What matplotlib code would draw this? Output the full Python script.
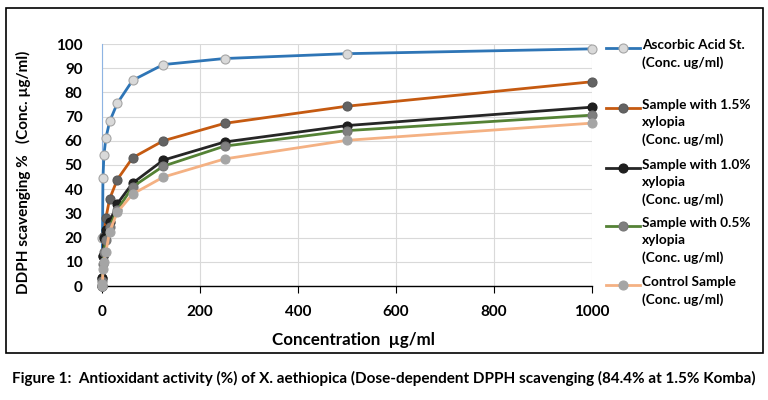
import matplotlib
matplotlib.use("Agg")
from matplotlib import pyplot as plt
from matplotlib.lines import Line2D
from matplotlib.patches import Rectangle

plt.rcParams['font.family'] = ['Lato', 'DejaVu Sans']
plt.rcParams['font.weight'] = 'bold'

# data
conc = [0, 0.98, 1.95, 3.9, 7.8, 15.6, 31.25, 62.5, 125, 250, 500, 1000]
ascorbic = [0, 20, 44.5, 54, 61, 68, 75.5, 85, 91.5, 94, 96, 98]
sample_15 = [0, 3.5, 12.5, 20.5, 28, 36, 44, 53, 60, 67.2, 74.3, 84.4]
sample_10 = [0, 3.5, 12.5, 20, 23, 26.5, 34, 42.5, 52, 59.5, 66.3, 73.9]
sample_05 = [0, 2, 9, 14, 19, 24.5, 31.5, 41, 49.5, 57.8, 64.2, 70.6]
control = [0, 1, 7, 10, 14, 22.5, 30.5, 38, 45, 52.5, 60.2, 67.3]

labels = ['Ascorbic Acid St.\n(Conc. ug/ml)',
          'Sample with 1.5%\nxylopia\n(Conc. ug/ml)',
          'Sample with 1.0%\nxylopia\n(Conc. ug/ml)',
          'Sample with 0.5%\nxylopia\n(Conc. ug/ml)',
          'Control Sample\n(Conc. ug/ml)']
series = [ascorbic, sample_15, sample_10, sample_05, control]
line_colors = ['#2E75B6', '#C55A11', '#262626', '#548235', '#F4B183']
marker_face = ['#D9D9D9', '#636363', '#1F1F1F', '#7F7F7F', '#A5A5A5']
marker_edge = ['#A5A5A5', '#595959', '#1A1A1A', '#767676', '#A5A5A5']

fig = plt.figure(figsize=(7.68, 4.0), dpi=100)
ax = fig.add_axes([102 / 768, 1 - 286 / 400, 490 / 768, 242 / 400])

for vals, lc, mf, me in zip(series, line_colors, marker_face, marker_edge):
    ax.plot(conc, vals, color=lc, lw=2.0, marker='o', ms=6.5,
            mfc=mf, mec=me, mew=0.8, clip_on=False, zorder=3)

ax.set_xlim(0, 1000)
ax.set_ylim(0, 100)
ax.set_xticks(range(0, 1001, 200))
ax.set_yticks(range(0, 101, 10))
ax.grid(True, color='#D9D9D9', lw=0.8)
ax.set_axisbelow(True)
for s in ['top', 'right']:
    ax.spines[s].set_visible(False)
ax.spines['left'].set_color('#8EB4E3')
ax.spines['left'].set_linewidth(0.8)
ax.spines['bottom'].set_color('black')
ax.spines['bottom'].set_linewidth(1.0)
ax.tick_params(axis='x', length=5, width=0.8, direction='out', pad=9,
               labelsize=11)
ax.tick_params(axis='y', length=0, pad=14, labelsize=11)
for t in ax.get_xticklabels() + ax.get_yticklabels():
    t.set_fontweight('bold')

fig.text(354 / 768, 1 - 340 / 400, 'Concentration  µg/ml', ha='center',
         va='center', fontsize=12.2, fontweight='bold')
fig.text(23 / 768, 1 - 172 / 400, 'DDPH scavenging %   (Conc. µg/ml)',
         rotation=90, ha='center', va='center', fontsize=11,
         fontweight='bold')

# legend drawn by hand so the marker sits on the first text line
entry_tops = [48, 108, 168, 226, 285]
for top, lab, lc, mf, me in zip(entry_tops, labels, line_colors,
                                marker_face, marker_edge):
    y = 1 - top / 400
    fig.add_artist(Line2D([606 / 768, 640 / 768], [y, y], color=lc, lw=2.0,
                          transform=fig.transFigure))
    fig.add_artist(Line2D([623 / 768], [y], marker='o', ms=6.5, mfc=mf,
                          mec=me, mew=0.8, transform=fig.transFigure))
    fig.text(642 / 768, y + 9 / 400, lab, ha='left', va='top', fontsize=9.8,
             fontweight='bold', linespacing=1.5)

fig.add_artist(Rectangle((6 / 768, 1 - 353 / 400), 757 / 768, 345 / 400,
                         fill=False, ec='black', lw=1.2,
                         transform=fig.transFigure))

fig.text(384 / 768, 1 - 378 / 400,
         'Figure 1:  Antioxidant activity (%) of X. aethiopica '
         '(Dose-dependent DPPH scavenging (84.4% at 1.5% Komba)',
         ha='center', va='center', fontsize=11, fontweight='bold')

fig.savefig('out.png', dpi=100)
